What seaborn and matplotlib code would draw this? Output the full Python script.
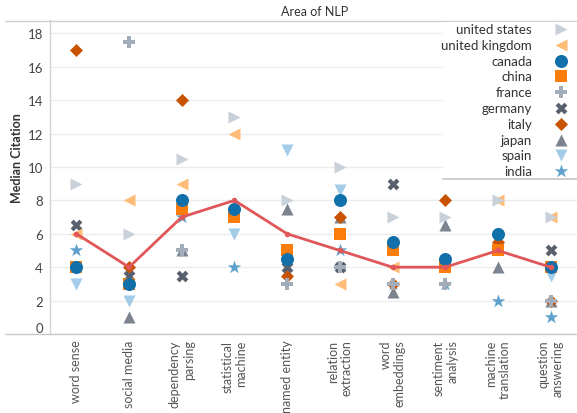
import numpy as np
import pandas as pd
import matplotlib
matplotlib.use("Agg")
import matplotlib.pyplot as plt
import seaborn as sns
from matplotlib.lines import Line2D

# ---------------- data ----------------
areas = ["word sense", "social media", "dependency parsing", "statistical machine",
         "named entity", "relation extraction", "word embeddings", "sentiment analysis",
         "machine translation", "question answering"]
area_labels = ["word sense", "social media", "dependency\nparsing", "statistical\nmachine",
               "named entity", "relation\nextraction", "word\nembeddings", "sentiment\nanalysis",
               "machine\ntranslation", "question\nanswering"]
countries = ["united states", "united kingdom", "canada", "china", "france",
             "germany", "italy", "japan", "spain", "india"]
nan = np.nan
united_states = [9, 6, 10.5, 13, 8, 10, 7, 7, 8, 7]
united_kingdom = [6, 8, 9, 12, nan, 3, 4, nan, 8, 7]
canada = [4, 3, 8, 7.5, 4.5, 8, 5.5, 4.5, 6, 4]
china = [4, 3, 7.5, 7, 5, 6, 5, 4, 5, 4]
france = [nan, 17.5, 5, nan, 3, 4, 3, 3, nan, 2]
germany = [6.5, 3.5, 3.5, nan, 4, 4, 9, nan, nan, 5]
italy = [17, 4, 14, nan, 3.5, 7, 3, 8, 5.5, 2]
japan = [nan, 1, 5, nan, 7.5, 7, 2.5, 6.5, 4, 2]
spain = [3, 2, nan, 6, 11, 8.6, nan, nan, nan, 3.5]
india = [5, nan, 7, 4, nan, 5, 3, 3, 2, 1]
median_citation = [6, 4, 7, 8, 6, 5, 4, 4, 5, 4]

values = {"united states": united_states, "united kingdom": united_kingdom,
          "canada": canada, "china": china, "france": france, "germany": germany,
          "italy": italy, "japan": japan, "spain": spain, "india": india}

# ---------------- style ----------------
colors = {"united states": "#c8d0d9", "united kingdom": "#ffbc79", "canada": "#1170aa",
          "china": "#fc7d0b", "france": "#a3acb9", "germany": "#57606c",
          "italy": "#c85200", "japan": "#7b848f", "spain": "#a3cce9", "india": "#5fa2ce"}
markers = {"united states": ">", "united kingdom": "<", "canada": "o", "china": "s",
           "france": "P", "germany": "X", "italy": "D", "japan": "^", "spain": "v",
           "india": "*"}
sizes = {"united states": 75, "united kingdom": 75, "canada": 88, "china": 72,
         "france": 72, "germany": 72, "italy": 44, "japan": 75, "spain": 75, "india": 105}

sns.set_theme(style="white")
plt.rcParams['font.family'] = ['Lato', 'DejaVu Sans']

W, H = 577, 414
fig = plt.figure(figsize=(W / 100, H / 100), dpi=100)
ax = fig.add_axes([50 / W, (H - 335) / H, (W - 50) / W, (335 - 21) / H])

# scatter marks, drawn last-legend-first so canada sits above china, etc.
for c in reversed(countries):
    df = pd.DataFrame({"area": np.arange(len(areas)), "citation": values[c]}).dropna()
    sns.scatterplot(data=df, x="area", y="citation", color=colors[c], marker=markers[c],
                    s=sizes[c], linewidth=0, ax=ax, zorder=3, legend=False)

sns.lineplot(x=np.arange(len(areas)), y=median_citation, color="#e15759", lw=2,
             marker="o", markersize=4, markeredgewidth=0, ax=ax, zorder=6)

ax.set_xlim(-0.5, 9.26)
ax.set_ylim(0, 18.8)
ax.set_xlabel("")
ax.set_ylabel("")

ax.set_yticks(np.arange(0, 19, 2))
ax.yaxis.grid(True, color="#ececec", lw=1)
ax.set_axisbelow(True)
ax.tick_params(axis="y", length=0, pad=5, labelsize=9.5, labelcolor="#444444")
ylabs = ax.get_yticklabels()
ylabs[0].set_va("bottom")

ax.set_xticks(np.arange(len(areas)))
ax.set_xticklabels(area_labels, rotation=90, ha="center", va="top",
                   multialignment="right")
ax.tick_params(axis="x", which="major", length=0, pad=4, labelsize=9, labelcolor="#555555")
ax.set_xticks(np.arange(-0.5, len(areas), 1), minor=True)
ax.tick_params(axis="x", which="minor", length=5, width=1, color="#888888", direction="out")

for s in ["top", "right", "bottom"]:
    ax.spines[s].set_visible(False)
ax.spines["left"].set_color("#d6d6d6")
ax.spines["left"].set_linewidth(1)

# pane border lines
fig.add_artist(Line2D([5 / W, 1], [(H - 335) / H] * 2, color="#c8c8c8", lw=1))
fig.add_artist(Line2D([5 / W, 1], [(H - 21.5) / H] * 2, color="#d0d0d0", lw=1))

fig.text(315 / W, (H - 12) / H, "Area of NLP", ha="center", va="center",
         fontsize=9, color="#333333")
fig.text(17 / W, (H - 158) / H, "Median Citation", rotation=90, ha="center",
         va="center", fontsize=9, fontweight="bold", color="#333333")

# legend panel
lax = fig.add_axes([443 / W, (H - 180) / H, (W - 443) / W, (180 - 22.5) / H])
lax.set_zorder(10)
lax.set_facecolor("white")
lax.set_xlim(443, 577)
lax.set_ylim(180, 22.5)
lax.set_xticks([])
lax.set_yticks([])
for s in ["top", "right", "left"]:
    lax.spines[s].set_visible(False)
lax.spines["bottom"].set_color("#c8c8c8")
for i, c in enumerate(countries):
    y = 30 + 15.8 * i
    lax.text(532, y, c, ha="right", va="center", fontsize=9.5, color="#333333")
    lax.scatter([561], [y], marker=markers[c], s=sizes[c], color=colors[c], linewidth=0)

fig.savefig("out.png", dpi=100)
